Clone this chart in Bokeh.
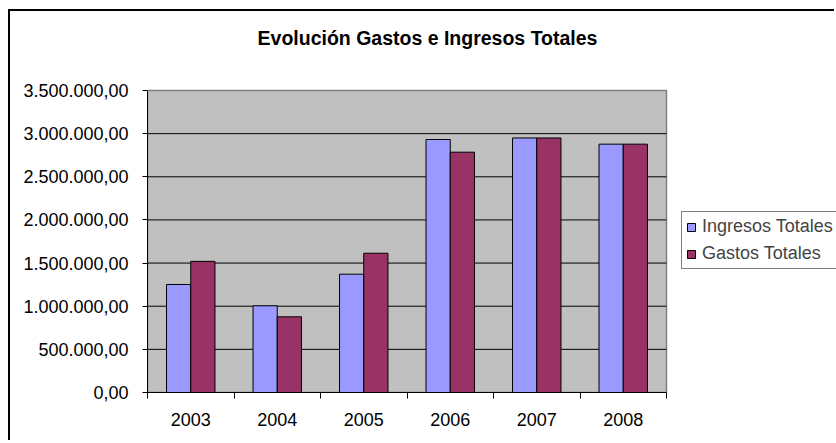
from bokeh.plotting import figure
from bokeh.models import FixedTicker, Legend, LegendItem, ColumnDataSource, Range1d, Label
from bokeh.transform import dodge
from bokeh.embed import file_html
from bokeh.resources import INLINE

# ---- data ----
years = ["2003", "2004", "2005", "2006", "2007", "2008"]
ingresos = [1252000, 1005000, 1371000, 2932000, 2950000, 2878000]
gastos = [1520000, 877000, 1614000, 2785000, 2950000, 2878000]
y_ticks = [0, 500000, 1000000, 1500000, 2000000, 2500000, 3000000, 3500000]
title_text = "Evolución Gastos e Ingresos Totales"
series_names = ["Ingresos Totales", "Gastos Totales"]


def fmt_es(v):
    s = f"{v:,.2f}"
    return s.replace(",", "X").replace(".", ",").replace("X", ".")


FONT = "Liberation Sans"

# layout (pixels): plot area inside a frame that also holds title and legend
CANVAS_W, CANVAS_H = 826, 431
BORDER_L, BORDER_B = 137, 50
AREA_W, AREA_H = 519, 302
frame_w = CANVAS_W - BORDER_L
frame_h = CANVAS_H - BORDER_B
n = len(years)
y_max = y_ticks[-1]

xs = [i + 0.5 for i in range(n)]
src = ColumnDataSource(dict(x=xs, ingresos=ingresos, gastos=gastos))

p = figure(width=CANVAS_W, height=CANVAS_H, output_backend="svg", toolbar_location=None,
           x_range=Range1d(0, n * frame_w / AREA_W), y_range=Range1d(0, y_max * frame_h / AREA_H),
           min_border_left=BORDER_L, min_border_right=0, min_border_top=0,
           min_border_bottom=BORDER_B,
           styles={"border-top": "2px solid black", "border-left": "2px solid black",
                   "margin-left": "8px", "margin-top": "9px"})

p.background_fill_color = "white"
p.border_fill_color = "white"
p.outline_line_color = None

# plot area (grey) with grey border
p.quad(left=0, right=n, bottom=0, top=y_max, fill_color="#C0C0C0",
       line_color="#808080", line_width=1.5)

# horizontal gridlines restricted to plot area
grid_y = y_ticks[1:-1]
p.segment(x0=[0] * len(grid_y), x1=[n] * len(grid_y), y0=grid_y, y1=grid_y,
          line_color="black", line_width=1)

r1 = p.vbar(x=dodge("x", -0.14, range=p.x_range), top="ingresos", width=0.28, source=src,
            fill_color="#9999FF", line_color="black", line_width=1)
r2 = p.vbar(x=dodge("x", 0.14, range=p.x_range), top="gastos", width=0.28, source=src,
            fill_color="#993366", line_color="black", line_width=1)

# y axis
yax = p.yaxis[0]
yax.bounds = (0, y_max)
yax.ticker = FixedTicker(ticks=y_ticks)
yax.major_label_overrides = {v: fmt_es(v) for v in y_ticks}
yax.major_label_text_font = FONT
yax.major_label_text_font_size = "18px"
yax.major_label_text_color = "black"
yax.major_tick_out = 5
yax.major_tick_in = 0
yax.minor_tick_line_color = None
yax.major_label_standoff = 14
yax.axis_line_color = "black"
yax.major_tick_line_color = "black"

# x axis
xax = p.xaxis[0]
xax.bounds = (0, n)
xax.ticker = FixedTicker(ticks=xs, minor_ticks=list(range(n + 1)))
xax.major_label_overrides = {x: y for x, y in zip(xs, years)}
xax.major_label_text_font = FONT
xax.major_label_text_font_size = "18px"
xax.major_label_text_color = "black"
xax.major_tick_out = 0
xax.major_tick_in = 0
xax.minor_tick_out = 6
xax.minor_tick_in = 0
xax.minor_tick_line_color = "black"
xax.major_label_standoff = 14
xax.axis_line_color = "black"

p.xgrid.visible = False
p.ygrid.visible = False

legend = Legend(items=[LegendItem(label=series_names[0], renderers=[r1]),
                       LegendItem(label=series_names[1], renderers=[r2])],
                location=(534, 123), label_text_font=FONT, label_text_font_size="18px",
                glyph_width=10, glyph_height=10, label_standoff=6, padding=4, spacing=6,
                label_height=20, margin=0, border_line_color="black", border_line_width=1,
                background_fill_color="white", background_fill_alpha=1)
p.add_layout(legend, "center")

title = Label(x=280, y=355, x_units="screen", y_units="screen", text=title_text,
              text_font=FONT, text_font_size="19.5px", text_font_style="bold",
              text_align="center", text_baseline="alphabetic", text_color="black")
p.add_layout(title)

open("out.html", "w").write(file_html(p, INLINE))
